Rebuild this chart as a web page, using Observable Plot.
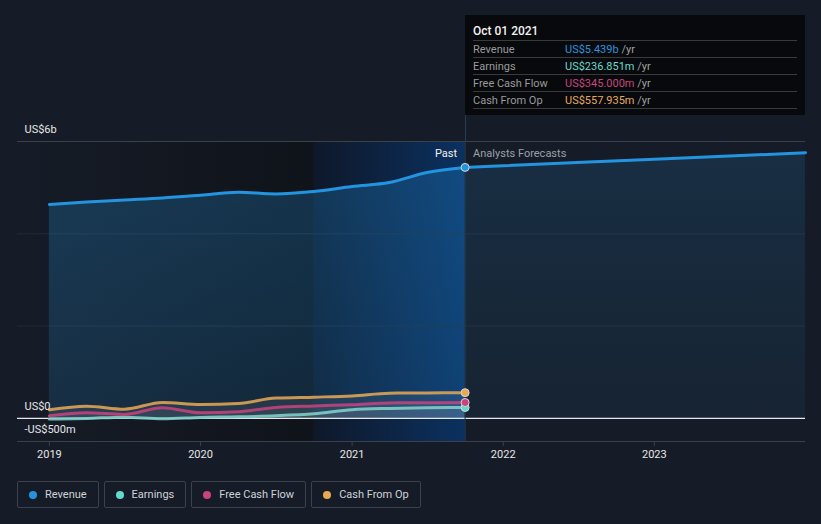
<!DOCTYPE html>
<html>
<head>
<meta charset="utf-8">
<script src="https://cdn.jsdelivr.net/npm/d3@7"></script>
<script src="https://cdn.jsdelivr.net/npm/@observablehq/plot@0.6"></script>
<style>
  html, body { margin: 0; padding: 0; background: #161c27; }
  body { font-family: Roboto, "Noto Sans", sans-serif; }
  #wrap { position: relative; width: 821px; height: 524px; overflow: hidden; }
  #tip { position: absolute; left: 465px; top: 15px; width: 340px; height: 100px; box-sizing: border-box;
         background: #07090c; padding: 0 8px; font-size: 11px; color: #9a9a9a; }
  #tip .title { height: 25px; line-height: 32px; color: #f2f2f2; font-size: 12px; font-weight: 500; }
  #tip .row { height: 17px; line-height: 17px; border-top: 1px solid #3a3a3a; box-sizing: border-box; display: flex; }
  #tip .row:last-child { border-bottom: 1px solid #3a3a3a; height: 18px; }
  #tip .lab { width: 92px; }
  #tip .unit { color: #a0a0a0; }
  #vline { position: absolute; left: 465px; top: 115px; width: 1px; height: 26px; background: #2a3a50; }
  #legend { display: flex; gap: 5px; margin-left: 17px; margin-top: 11px; }
  #legend .item { height: 27px; box-sizing: border-box; border: 1px solid #3c414a; border-radius: 2px;
                  display: flex; align-items: center; padding: 0 11px; font-size: 11px; color: #cfd2d6; }
  #legend .dot { width: 8px; height: 8px; border-radius: 50%; margin-right: 8px; }
</style>
</head>
<body>
<div id="wrap">
  <div id="chart"></div>
  <div id="legend"></div>
  <div id="vline"></div>
  <div id="tip"></div>
</div>
<script>
// ---- data (values in US$ billions) ----
const quarters = ["2019-01-01","2019-04-01","2019-07-01","2019-10-01","2020-01-01","2020-04-01",
                  "2020-07-01","2020-10-01","2021-01-01","2021-04-01","2021-07-01","2021-10-01"];
const revenue  = [4.635, 4.689, 4.733, 4.776, 4.837, 4.902, 4.862, 4.917, 5.025, 5.111, 5.328, 5.439];
const earnings = [-0.015, 0.000, 0.028, -0.007, 0.022, 0.035, 0.058, 0.100, 0.188, 0.217, 0.232, 0.237];
const fcf      = [0.058, 0.123, 0.087, 0.232, 0.123, 0.145, 0.238, 0.271, 0.297, 0.336, 0.340, 0.345];
const cfo      = [0.188, 0.266, 0.201, 0.347, 0.303, 0.325, 0.440, 0.461, 0.487, 0.548, 0.552, 0.558];
const forecastDates   = ["2021-10-01","2022-01-01","2023-01-01","2024-01-01"];
const revenueForecast = [5.439, 5.474, 5.615, 5.755];

const seriesNames  = ["Revenue", "Earnings", "Free Cash Flow", "Cash From Op"];
const seriesColors = ["#2394df", "#5fdccd", "#c8437f", "#e8a955"];
const tipValues    = ["US$5.439b", "US$236.851m", "US$345.000m", "US$557.935m"];
const tipDate      = "Oct 01 2021";

const yTicks = [6, 0, -0.5];
const yTickLabels = ["US$6b", "US$0", "-US$500m"];
const xTicks = ["2019-01-01","2020-01-01","2021-01-01","2022-01-01","2023-01-01"];
const xDomain = ["2018-10-16", "2024-01-01"];
const yDomain = [-0.5, 6];
const pastStart = "2020-10-01";
const nowDate = "2021-10-01";

// ---- build tables ----
const P = d3.utcParse("%Y-%m-%d");
const past = quarters.map((d, i) => ({date: P(d), revenue: revenue[i], earnings: earnings[i], fcf: fcf[i], cfo: cfo[i]}));
const fut = forecastDates.map((d, i) => ({date: P(d), revenue: revenueForecast[i]}));
const last = past[past.length - 1];
const curve = "monotone-x";

const chart = Plot.plot({
  width: 821,
  height: 470,
  marginLeft: 17,
  marginRight: 16,
  marginTop: 141,
  marginBottom: 29,
  style: {background: "transparent", color: "#e6e6e6", fontFamily: "Roboto, sans-serif", fontSize: "11px"},
  x: {type: "utc", domain: xDomain.map(P), axis: null},
  y: {domain: yDomain, axis: null},
  marks: [
    Plot.rect([{a: P(xDomain[0]), b: P(pastStart)}], {x1: "a", x2: "b", y1: yDomain[0], y2: yDomain[1], fill: "url(#gPast)"}),
    Plot.rect([{a: P(pastStart), b: P(nowDate)}], {x1: "a", x2: "b", y1: yDomain[0], y2: yDomain[1], fill: "url(#gHi)"}),
    Plot.ruleY([2, 4], {stroke: "#222a36", strokeWidth: 1}),
    Plot.ruleY([6], {stroke: "#3b4049", strokeWidth: 1}),
    Plot.ruleY([-0.5], {stroke: "#3b4049", strokeWidth: 1}),
    Plot.axisX(xTicks.map(P), {tickFormat: "%Y", tickSize: 5, tickPadding: 4, stroke: "#3b4049", fill: "#e6e6e6", fontSize: 11, label: null}),
    // revenue areas
    Plot.areaY(past, {x: "date", y: "revenue", fill: "url(#gArea)", curve}),
    Plot.areaY(fut, {x: "date", y: "revenue", fill: "url(#gAreaF)", curve}),
    // small series areas
    Plot.areaY(past, {x: "date", y: "cfo", fill: "#ffffff", fillOpacity: 0.07, curve}),
    Plot.areaY(past, {x: "date", y: "fcf", fill: "#ffffff", fillOpacity: 0.06, curve}),
    Plot.areaY(past, {x: "date", y: "earnings", fill: "#ffffff", fillOpacity: 0.06, curve}),
    Plot.ruleY([0], {stroke: "#e8e8e8", strokeWidth: 1.3}),
    Plot.ruleX([P(nowDate)], {stroke: "#2a3a50", strokeWidth: 1}),
    Plot.lineY(fut, {x: "date", y: "revenue", stroke: seriesColors[0], strokeWidth: 3, curve}),
    Plot.lineY(past, {x: "date", y: "revenue", stroke: seriesColors[0], strokeWidth: 3, curve}),
    Plot.lineY(past, {x: "date", y: "earnings", stroke: "#7fcdc6", strokeWidth: 3, strokeOpacity: 0.9, curve}),
    Plot.lineY(past, {x: "date", y: "fcf", stroke: seriesColors[2], strokeWidth: 3, strokeOpacity: 0.85, curve}),
    Plot.lineY(past, {x: "date", y: "cfo", stroke: seriesColors[3], strokeWidth: 3, strokeOpacity: 0.85, curve}),
    Plot.dot([last], {x: "date", y: "cfo", r: 4, fill: seriesColors[3], stroke: "#d8d8d8", strokeWidth: 1}),
    Plot.dot([last], {x: "date", y: "earnings", r: 4, fill: seriesColors[1], stroke: "#d8d8d8", strokeWidth: 1}),
    Plot.dot([last], {x: "date", y: "fcf", r: 4, fill: seriesColors[2], stroke: "#d8d8d8", strokeWidth: 1}),
    Plot.dot([last], {x: "date", y: "revenue", r: 4, fill: seriesColors[0], stroke: "#d8d8d8", strokeWidth: 1}),
    // y labels
    Plot.text(yTicks, {y: d => d, text: (d, i) => yTickLabels[i], frameAnchor: "left", textAnchor: "start", dx: 7, dy: -12, fill: "#e6e6e6", fontSize: 11}),
    // past / forecast labels
    Plot.text([{date: P(nowDate), y: 6}], {x: "date", y: "y", text: () => "Past", textAnchor: "end", dx: -8, dy: 12, fill: "#f2f2f2", fontSize: 11}),
    Plot.text([{date: P(nowDate), y: 6}], {x: "date", y: "y", text: () => "Analysts Forecasts", textAnchor: "start", dx: 8, dy: 12, fill: "#9aa0a8", fontSize: 11})
  ]
});

// gradients
const defs = d3.select(chart).insert("defs", ":first-child");
function grad(id, stops, vertical) {
  const g = defs.append("linearGradient").attr("id", id)
    .attr("x1", 0).attr("y1", 0).attr("x2", vertical ? 0 : 1).attr("y2", vertical ? 1 : 0);
  stops.forEach(([o, c, op]) => g.append("stop").attr("offset", o).attr("stop-color", c).attr("stop-opacity", op));
}
grad("gPast", [[0, "#161c27", 1], [1, "#0f131a", 1]]);
grad("gHi", [[0, "#0e1829", 1], [1, "#0b3160", 1]]);
grad("gArea", [[0, "#2394df", 0.26], [1, "#2394df", 0.16]], true);
grad("gAreaF", [[0, "#2394df", 0.15], [1, "#2394df", 0.06]], true);

document.getElementById("chart").appendChild(chart);

// tooltip
const tip = document.getElementById("tip");
let html = `<div class="title">${tipDate}</div>`;
seriesNames.forEach((n, i) => {
  html += `<div class="row"><span class="lab">${n}</span><span style="color:${seriesColors[i]}">${tipValues[i]}</span><span class="unit">&nbsp;/yr</span></div>`;
});
tip.innerHTML = html;

// legend
const legend = document.getElementById("legend");
seriesNames.forEach((n, i) => {
  const it = document.createElement("div");
  it.className = "item";
  it.innerHTML = `<span class="dot" style="background:${seriesColors[i]}"></span><span>${n}</span>`;
  legend.appendChild(it);
});
</script>
</body>
</html>
